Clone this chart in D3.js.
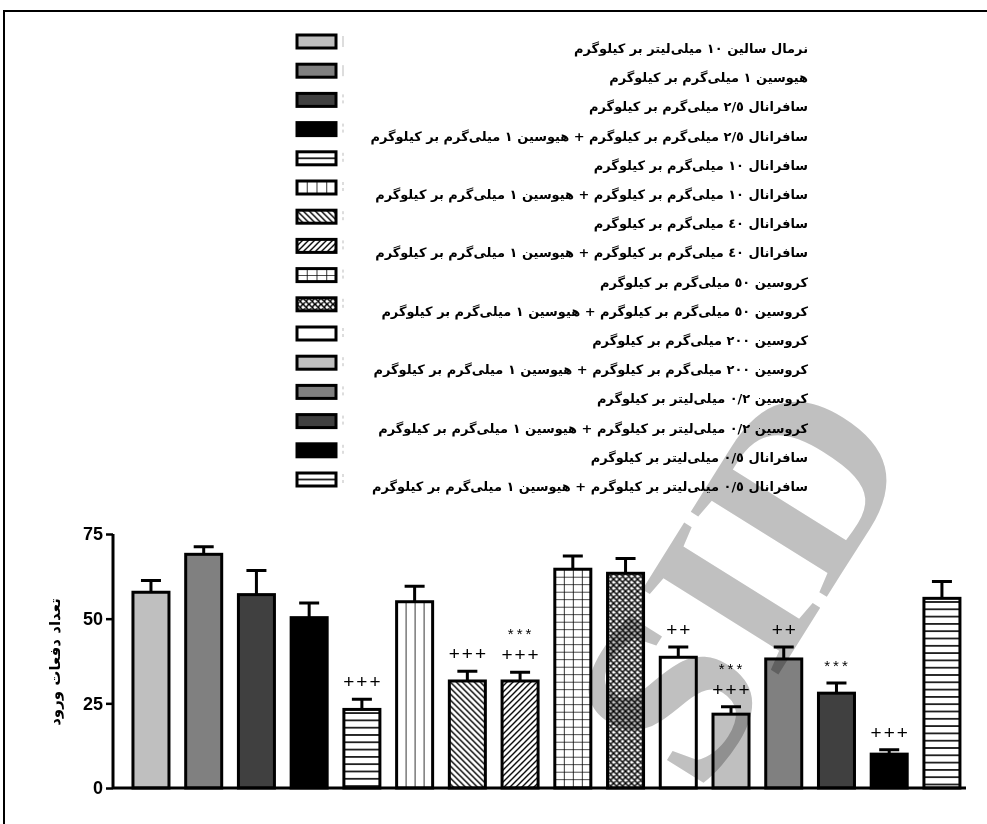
<!DOCTYPE html>
<html>
<head>
<meta charset="utf-8">
<script src="https://cdn.jsdelivr.net/npm/d3@7"></script>
<style>
  body { margin: 0; background: #fff; }
</style>
</head>
<body>
<svg id="chart" width="987" height="824"></svg>
<script>
// groups, in bar order (left to right) and legend order (top to bottom)
const groups = [
  "نرمال سالین ۱۰ میلی‌لیتر بر کیلوگرم",
  "هیوسین ۱ میلی‌گرم بر کیلوگرم",
  "سافرانال ۲/٥ میلی‌گرم بر کیلوگرم",
  "سافرانال ۲/٥ میلی‌گرم بر کیلوگرم + هیوسین ۱ میلی‌گرم بر کیلوگرم",
  "سافرانال ۱۰ میلی‌گرم بر کیلوگرم",
  "سافرانال ۱۰ میلی‌گرم بر کیلوگرم + هیوسین ۱ میلی‌گرم بر کیلوگرم",
  "سافرانال ٤۰ میلی‌گرم بر کیلوگرم",
  "سافرانال ٤۰ میلی‌گرم بر کیلوگرم + هیوسین ۱ میلی‌گرم بر کیلوگرم",
  "کروسین ٥۰ میلی‌گرم بر کیلوگرم",
  "کروسین ٥۰ میلی‌گرم بر کیلوگرم + هیوسین ۱ میلی‌گرم بر کیلوگرم",
  "کروسین ۲۰۰ میلی‌گرم بر کیلوگرم",
  "کروسین ۲۰۰ میلی‌گرم بر کیلوگرم + هیوسین ۱ میلی‌گرم بر کیلوگرم",
  "کروسین ۰/۲ میلی‌لیتر بر کیلوگرم",
  "کروسین ۰/۲ میلی‌لیتر بر کیلوگرم + هیوسین ۱ میلی‌گرم بر کیلوگرم",
  "سافرانال ۰/٥ میلی‌لیتر بر کیلوگرم",
  "سافرانال ۰/٥ میلی‌لیتر بر کیلوگرم + هیوسین ۱ میلی‌گرم بر کیلوگرم"
];
const means = [57.8, 69.0, 57.1, 50.3, 23.2, 55.0, 31.6, 31.6, 64.6, 63.4, 38.6, 21.8, 38.1, 28.0, 10.0, 56.0];
const sems  = [3.5, 2.2, 7.1, 4.3, 3.0, 4.6, 2.9, 2.6, 3.9, 4.4, 3.0, 2.2, 3.5, 3.0, 1.3, 5.0];
const fills = ["#bfbfbf", "#808080", "#404040", "#000000", "hlines", "vlines", "diagDown", "diagUp",
               "grid", "cross", "#ffffff", "#bfbfbf", "#808080", "#404040", "#000000", "hlines"];
const plusMarks = ["", "", "", "", "+++", "", "+++", "+++", "", "", "++", "+++", "++", "", "+++", ""];
const starMarks = ["", "", "", "", "", "", "", "***", "", "", "", "***", "", "***", "", ""];
const yTicks = [0, 25, 50, 75];
const yTitle = "تعداد دفعات ورود";
const watermark = "SID";

const svg = d3.select("#chart");
const defs = svg.append("defs");

const x = d3.scaleBand()
  .domain(d3.range(groups.length))
  .range([124.6, 968.3])
  .paddingInner(0.317)
  .paddingOuter(0.1585);

const y = d3.scaleLinear().domain([0, 75]).range([788, 534]);

function addPattern(id, type, x0, y0, w) {
  var p = defs.append("pattern")
    .attr("id", id)
    .attr("patternUnits", "userSpaceOnUse")
    .attr("x", x0)
    .attr("y", y0);
  var pw = 6, ph = 6;
  if (type == "hlines") { pw = 10; ph = 7.3; }
  if (type == "vlines") { pw = w / 4; ph = 10; }
  if (type == "grid") { pw = w / 4; ph = 7.5; }
  p.attr("width", pw).attr("height", ph);
  p.append("rect").attr("width", pw).attr("height", ph).attr("fill", "#fff");
  var g = p.append("g").attr("stroke", "#000").attr("fill", "none");
  if (type == "hlines") {
    g.append("path").attr("d", "M0," + ph / 2 + "H" + pw).attr("stroke-width", 1.6);
  } else if (type == "vlines") {
    g.append("path").attr("d", "M0,0V" + ph).attr("stroke-width", 1.6);
  } else if (type == "grid") {
    g.append("path").attr("d", "M0,0V" + ph + "M0,0H" + pw).attr("stroke-width", 1.6);
  } else if (type == "diagDown") {
    g.append("path").attr("d", "M0,0L6,6M-1,5L1,7M5,-1L7,1").attr("stroke-width", 1.4);
  } else if (type == "diagUp") {
    g.append("path").attr("d", "M0,6L6,0M-1,1L1,-1M5,7L7,5").attr("stroke-width", 1.4);
  } else if (type == "cross") {
    g.append("path").attr("d", "M0,0L6,6M-1,5L1,7M5,-1L7,1M0,6L6,0M-1,1L1,-1M5,7L7,5").attr("stroke-width", 1.5);
  }
}

function fillFor(type, id, x0, y0, w) {
  if (type.charAt(0) == "#") return type;
  addPattern(id, type, x0, y0, w);
  return "url(#" + id + ")";
}

// frame
svg.append("path")
  .attr("d", "M4,824V11H987")
  .attr("fill", "none")
  .attr("stroke", "#000")
  .attr("stroke-width", 2);

// bars
var bw = x.bandwidth();
var bars = svg.append("g");
for (var i = 0; i < groups.length; i++) {
  var bx = x(i);
  var barTop = y(means[i]);
  bars.append("rect")
    .attr("x", bx)
    .attr("y", barTop)
    .attr("width", bw)
    .attr("height", y(0) - barTop)
    .attr("fill", fillFor(fills[i], "bar" + i, bx, barTop, bw))
    .attr("stroke", "#000")
    .attr("stroke-width", 3);

  var cx = bx + bw / 2;
  var et = y(means[i] + sems[i]);
  bars.append("path")
    .attr("d", "M" + cx + "," + barTop + "V" + et + "M" + (cx - 10) + "," + et + "H" + (cx + 10))
    .attr("stroke", "#000")
    .attr("stroke-width", 3)
    .attr("fill", "none");

  if (plusMarks[i]) {
    bars.append("text")
      .attr("x", cx + 1)
      .attr("y", et - 11)
      .attr("text-anchor", "middle")
      .style("font-family", "Liberation Sans, Arial, sans-serif")
      .style("font-size", "19px")
      .style("letter-spacing", "2px")
      .text(plusMarks[i]);
  }
  if (starMarks[i]) {
    var sy = plusMarks[i] ? et - 33 : et - 12;
    bars.append("text")
      .attr("x", cx + 1)
      .attr("y", sy)
      .attr("text-anchor", "middle")
      .style("font-family", "Liberation Sans, Arial, sans-serif")
      .style("font-size", "15px")
      .style("letter-spacing", "3px")
      .text(starMarks[i]);
  }
}

// axes
var yAxis = svg.append("g")
  .attr("transform", "translate(113,0)")
  .call(d3.axisLeft(y).tickValues(yTicks).tickSize(7).tickPadding(3));
yAxis.select(".domain").attr("stroke-width", 3).attr("d", "M0," + y(0) + "V" + y(75) + "H0");
yAxis.selectAll(".tick line").attr("stroke-width", 2.5);
yAxis.selectAll(".tick text")
  .style("font-family", "Liberation Sans, Arial, sans-serif")
  .style("font-weight", "bold")
  .style("font-size", "18px")
  .attr("fill", "#000");

svg.append("path")
  .attr("d", "M113," + y(0) + "H966")
  .attr("stroke", "#000")
  .attr("stroke-width", 3);

svg.append("text")
  .attr("transform", "translate(60," + 662 + ") rotate(-90)")
  .attr("text-anchor", "middle")
  .attr("direction", "rtl")
  .style("font-family", "DejaVu Sans, sans-serif")
  .style("font-weight", "bold")
  .style("font-size", "15px")
  .text(yTitle);

// legend
var legend = svg.append("g");
var rowH = 29.2;
var texts = [];
for (var j = 0; j < groups.length; j++) {
  var ly = 35 + j * rowH;
  legend.append("rect")
    .attr("x", 297)
    .attr("y", ly)
    .attr("width", 39)
    .attr("height", 13)
    .attr("fill", fillFor(fills[j], "leg" + j, 297, ly + 6.5 - (fills[j] == "hlines" ? 3.65 : 0), 39))
    .attr("stroke", "#000")
    .attr("stroke-width", 3);
  legend.append("path")
    .attr("d", "M343," + (ly + 1) + "V" + (ly + 12))
    .attr("stroke", "#bbb")
    .attr("stroke-width", 1)
    .attr("stroke-dasharray", j < 2 ? null : "3,3");
  texts.push(legend.append("text")
    .attr("x", 808)
    .attr("y", ly + 18)
    .attr("direction", "rtl")
    .attr("text-anchor", "start")
    .style("font-family", "DejaVu Sans, sans-serif")
    .style("font-weight", "bold")
    .style("font-size", "14px")
    .text(groups[j]));
}
// fit the long legend lines to the width in the picture
var longest = d3.max(texts, function(t) { return t.node().getComputedTextLength(); });
var fs = 14 * 438 / longest;
texts.forEach(function(t) { t.style("font-size", fs + "px"); });

// grey watermark over the plot
svg.append("text")
  .attr("transform", "translate(740,580) rotate(-58)")
  .attr("text-anchor", "middle")
  .attr("dominant-baseline", "central")
  .style("font-family", "Liberation Serif, serif")
  .style("font-weight", "bold")
  .style("font-size", "245px")
  .style("mix-blend-mode", "multiply")
  .attr("fill", "#c0c0c0")
  .text(watermark);
</script>
</body>
</html>
